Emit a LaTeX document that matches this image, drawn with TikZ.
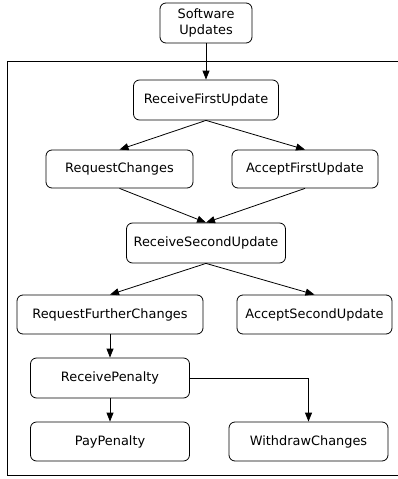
\documentclass[tikz,border=0pt]{standalone}
\usepackage{fontspec}
\setmainfont{DejaVu Sans}
\usetikzlibrary{arrows.meta}
\begin{document}
\begin{tikzpicture}[x=1pt,y=-1pt,
  box/.style={draw, rounded corners=6pt, line width=0.8pt, font=\fontsize{12.9}{15.5}\selectfont, inner sep=0pt, align=center},
  arr/.style={-{Triangle[length=9pt,width=7pt]}, line width=0.8pt},
  frame/.style={draw, line width=0.8pt}]
\useasboundingbox (0,0) rectangle (398,479);
\begin{scope}
\clip (0,0) rectangle (398,479);
\draw[frame] (400,61) -- (7,61) -- (7,475) -- (400,475);
\end{scope}
\node[box, minimum width=92pt, minimum height=40pt] (su) at (206,23) {Software\\Updates};
\node[box, minimum width=145pt, minimum height=40pt] (rfu) at (206,100) {ReceiveFirstUpdate};
\node[box, minimum width=147pt, minimum height=38pt] (rc) at (119.5,169) {RequestChanges};
\node[box, minimum width=146pt, minimum height=38pt] (afu) at (305,169) {AcceptFirstUpdate};
\node[box, minimum width=159pt, minimum height=40pt] (rsu) at (206,243) {ReceiveSecondUpdate};
\node[box, minimum width=186pt, minimum height=39pt] (rfc) at (110,314.5) {RequestFurtherChanges};
\node[box, minimum width=155pt, minimum height=39pt] (asu) at (314.5,314.5) {AcceptSecondUpdate};
\node[box, minimum width=159pt, minimum height=40pt] (rp) at (110,378) {ReceivePenalty};
\node[box, minimum width=159pt, minimum height=39pt] (pp) at (110,441.5) {PayPenalty};
\node[box, minimum width=159pt, minimum height=39pt] (wc) at (308.5,441.5) {WithdrawChanges};
\draw[arr] (su.south) -- (rfu.north);
\draw[arr] (rfu.south) -- (rc.north);
\draw[arr] (rfu.south) -- (afu.north);
\draw[arr] (rc.south) -- (rsu.north);
\draw[arr] (afu.south) -- (rsu.north);
\draw[arr] (rsu.south) -- (rfc.north);
\draw[arr] (rsu.south) -- (asu.north);
\draw[arr] (rfc.south) -- (rp.north);
\draw[arr] (rp.south) -- (pp.north);
\draw[arr] (rp.east) -| (wc.north);
\end{tikzpicture}
\end{document}
